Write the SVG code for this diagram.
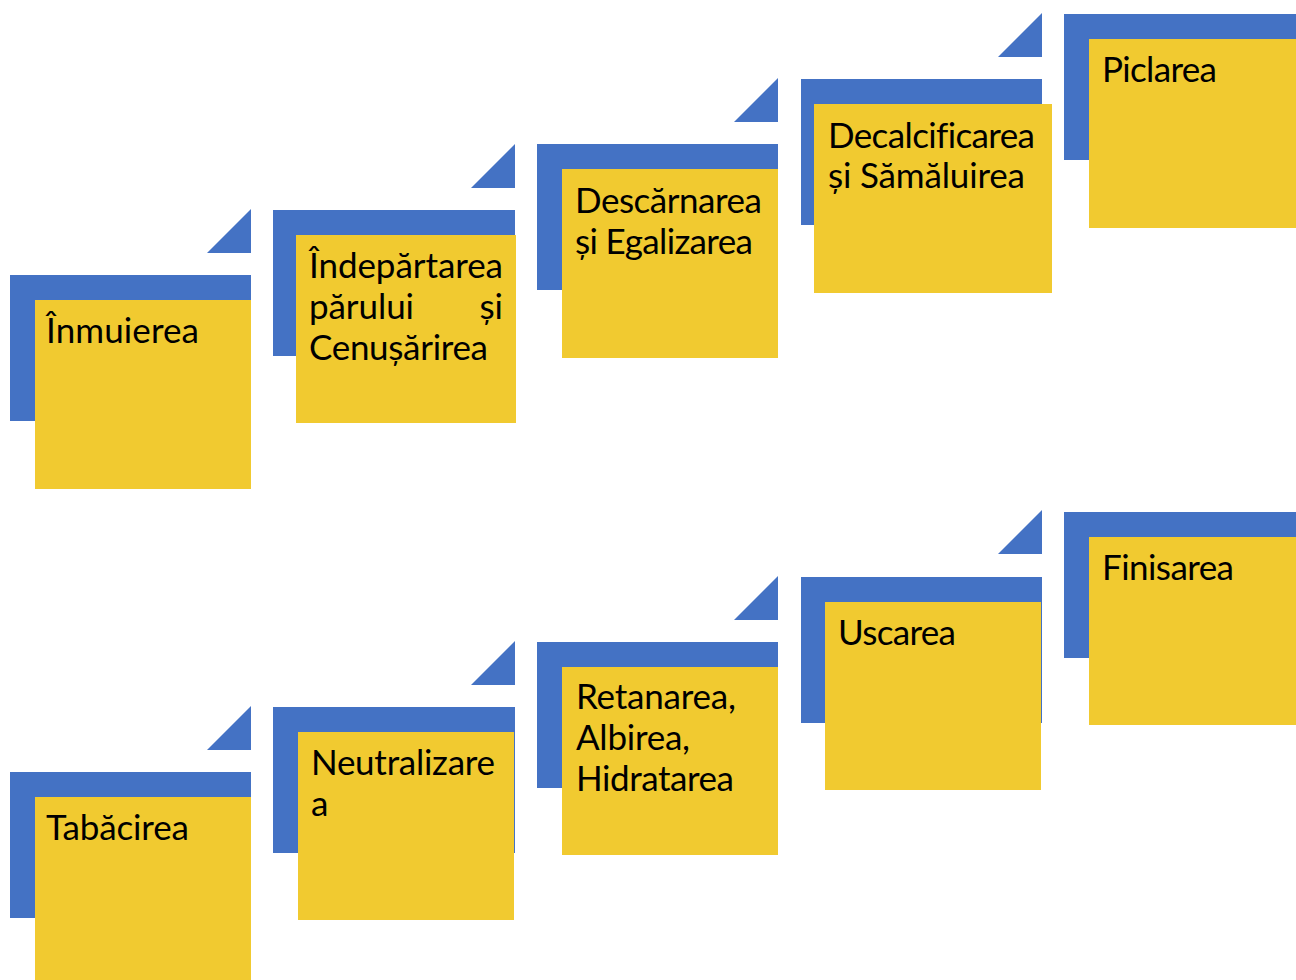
<svg xmlns="http://www.w3.org/2000/svg" width="1296" height="980" viewBox="0 0 1296 980">
<style>
.bl{fill:#4472C4}
.ye{fill:#F1CA30}
.t{font-family:Lato,"Open Sans","Liberation Sans",sans-serif;font-size:35px;fill:#000;font-variant-ligatures:none;font-feature-settings:"liga" 0,"clig" 0}
</style>
<rect width="1296" height="980" fill="#fff"/>
<g id="connectors">
<polygon class="bl" points="207,253 251,253 251,209"/>
<polygon class="bl" points="471,188 515,188 515,144"/>
<polygon class="bl" points="734,122 778,122 778,78"/>
<polygon class="bl" points="998,57 1042,57 1042,13"/>
<polygon class="bl" points="207,750 251,750 251,706"/>
<polygon class="bl" points="471,685 515,685 515,641"/>
<polygon class="bl" points="734,620 778,620 778,576"/>
<polygon class="bl" points="998,554 1042,554 1042,510"/>
</g>
<g id="n1">
<rect class="bl" x="10" y="275" width="241" height="146"/>
<rect class="ye" x="35" y="300" width="216" height="189"/>
<text class="t" x="46" y="343" textLength="153">Înmuierea</text>
</g>
<g id="n2">
<rect class="bl" x="273" y="210" width="242" height="146"/>
<rect class="ye" x="296" y="235" width="220" height="188"/>
<text class="t" x="309" y="278" textLength="194">Îndepărtarea</text>
<text class="t" x="309" y="319" textLength="105">părului</text>
<text class="t" x="503" y="319" text-anchor="end">și</text>
<text class="t" x="309" y="360" textLength="179">Cenușărirea</text>
</g>
<g id="n3">
<rect class="bl" x="537" y="144" width="241" height="146"/>
<rect class="ye" x="562" y="169" width="216" height="189"/>
<text class="t" x="575" y="213" textLength="187">Descărnarea</text>
<text class="t" x="575" y="254" textLength="178">și Egalizarea</text>
</g>
<g id="n4">
<rect class="bl" x="801" y="79" width="241" height="146"/>
<rect class="ye" x="814" y="104" width="238" height="189"/>
<text class="t" x="828" y="148" textLength="207">Decalcificarea</text>
<text class="t" x="828" y="188" textLength="197">și Sămăluirea</text>
</g>
<g id="n5">
<rect class="bl" x="1064" y="14" width="240" height="146"/>
<rect class="ye" x="1089" y="39" width="215" height="189"/>
<text class="t" x="1102" y="82" textLength="115">Piclarea</text>
</g>
<g id="n6">
<rect class="bl" x="10" y="772" width="241" height="146"/>
<rect class="ye" x="35" y="797" width="216" height="189"/>
<text class="t" x="46" y="840" textLength="143">Tabăcirea</text>
</g>
<g id="n7">
<rect class="bl" x="273" y="707" width="242" height="146"/>
<rect class="ye" x="298" y="732" width="216" height="188"/>
<text class="t" x="311" y="775" textLength="184">Neutralizare</text>
<text class="t" x="311" y="816">a</text>
</g>
<g id="n8">
<rect class="bl" x="537" y="642" width="241" height="146"/>
<rect class="ye" x="562" y="667" width="216" height="188"/>
<text class="t" x="576" y="709" textLength="160">Retanarea,</text>
<text class="t" x="576" y="750" textLength="114">Albirea,</text>
<text class="t" x="576" y="791" textLength="158">Hidratarea</text>
</g>
<g id="n9">
<rect class="bl" x="801" y="577" width="241" height="146"/>
<rect class="ye" x="825" y="602" width="216" height="188"/>
<text class="t" x="838" y="645" textLength="118">Uscarea</text>
</g>
<g id="n10">
<rect class="bl" x="1064" y="512" width="240" height="146"/>
<rect class="ye" x="1089" y="537" width="215" height="188"/>
<text class="t" x="1102" y="580" textLength="132">Finisarea</text>
</g>
</svg>
